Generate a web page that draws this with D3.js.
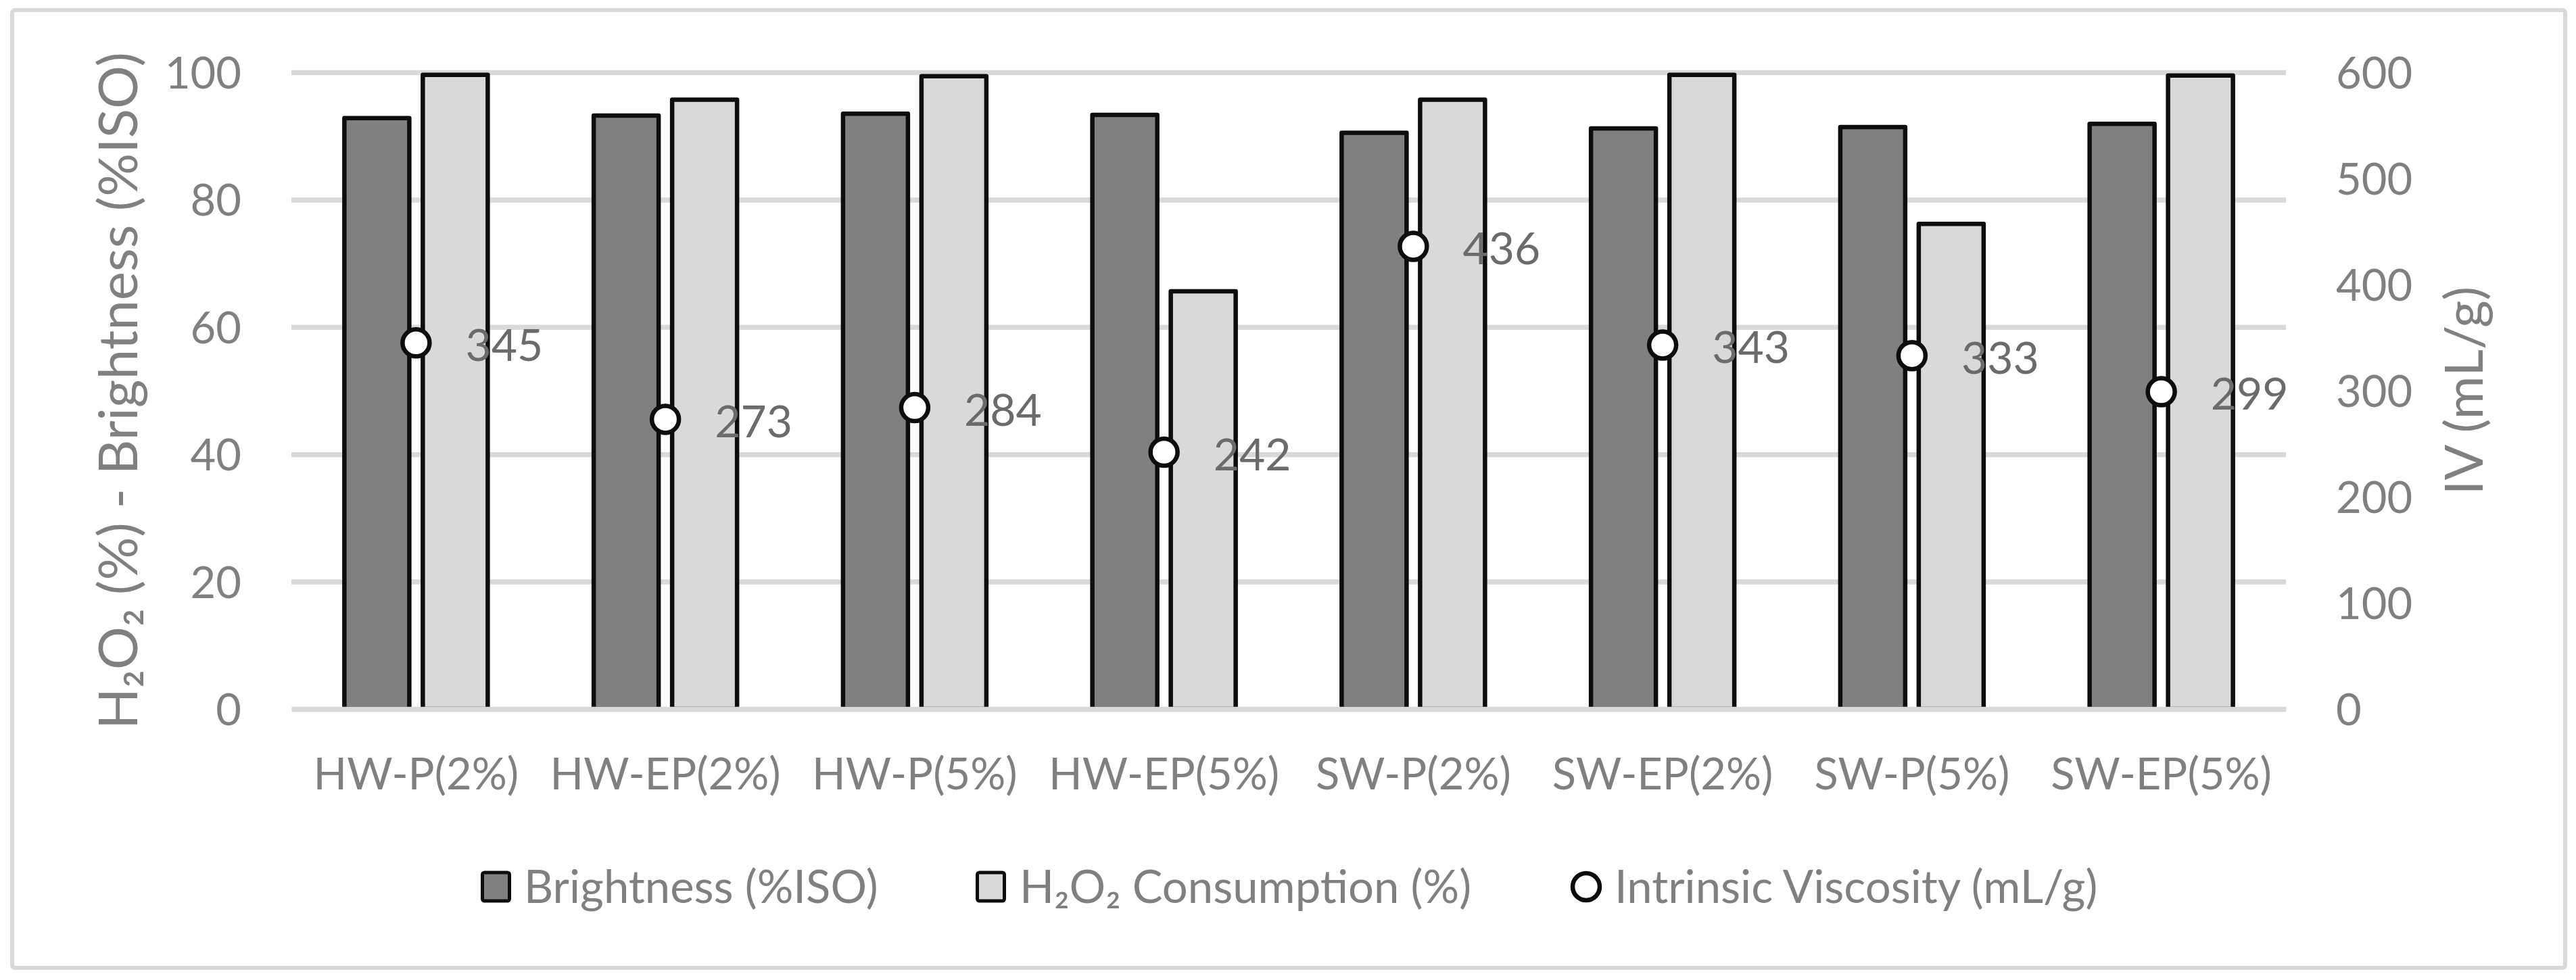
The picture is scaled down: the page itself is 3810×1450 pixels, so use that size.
<!DOCTYPE html>
<html>
<head>
<meta charset="utf-8">
<script src="https://cdn.jsdelivr.net/npm/d3@7"></script>
<style>
  html, body { margin: 0; padding: 0; background: #fff; }
  svg { display: block; }
  text { font-family: Lato, "Open Sans", "Liberation Sans", sans-serif; }
</style>
</head>
<body>
<svg id="chart" width="3810" height="1450"></svg>
<script>
// ---- data ----
const categories = ["HW-P(2%)", "HW-EP(2%)", "HW-P(5%)", "HW-EP(5%)", "SW-P(2%)", "SW-EP(2%)", "SW-P(5%)", "SW-EP(5%)"];
const brightness = [92.8, 93.2, 93.5, 93.3, 90.5, 91.2, 91.4, 91.9];
const h2o2Consumption = [99.6, 95.7, 99.4, 65.6, 95.7, 99.6, 76.2, 99.5];
const intrinsicViscosity = [345, 273, 284, 242, 436, 343, 333, 299];
const leftTicks = [0, 20, 40, 60, 80, 100];
const rightTicks = [0, 100, 200, 300, 400, 500, 600];
const seriesNames = ["Brightness (%ISO)", "H\u2082O\u2082 Consumption (%)", "Intrinsic Viscosity (mL/g)"];
const leftTitle = "H\u2082O\u2082 (%) - Brightness (%ISO)";
const rightTitle = "IV (mL/g)";

// ---- layout ----
const svg = d3.select("#chart");
const plot = { left: 431, right: 3381, top: 107, bottom: 1049 };
const gridColor = "#d9d9d9";
const textColor = "#808080";
const barStroke = "#0d0d0d";
const fills = ["#808080", "#d9d9d9"];

// chart area border
svg.append("rect")
  .attr("x", 18).attr("y", 15).attr("width", 3776).attr("height", 1417)
  .attr("rx", 4).attr("fill", "#fff")
  .attr("stroke", gridColor).attr("stroke-width", 6);

const x = d3.scaleBand().domain(categories).range([plot.left, plot.right]).padding(0);
const x1 = d3.scaleBand().domain([0, 1]).range([-106, 106]).paddingInner(0.1724).paddingOuter(0);
const yL = d3.scaleLinear().domain([0, 100]).range([plot.bottom, plot.top]);
const yR = d3.scaleLinear().domain([0, 600]).range([plot.bottom, plot.top]);

// gridlines (behind bars)
const grid = svg.append("g")
  .attr("transform", `translate(${plot.left},0)`)
  .call(d3.axisLeft(yL).tickValues(leftTicks.filter(d => d !== 0)).tickSize(-(plot.right - plot.left)).tickFormat(""));
grid.select(".domain").remove();
grid.selectAll(".tick line").attr("stroke", gridColor).attr("stroke-width", 7.5);

// bars
const barData = [brightness, h2o2Consumption];
const groups = svg.append("g").selectAll("g")
  .data(categories)
  .join("g")
  .attr("transform", d => `translate(${x(d) + x.bandwidth() / 2},0)`);

groups.selectAll("rect")
  .data((d, i) => barData.map((arr, s) => ({ s, v: arr[i] })))
  .join("rect")
  .attr("x", d => x1(d.s))
  .attr("width", x1.bandwidth())
  .attr("y", d => yL(d.v))
  .attr("height", d => yL(0) - yL(d.v))
  .attr("fill", d => fills[d.s])
  .attr("stroke", barStroke)
  .attr("stroke-width", 6.5)
  .attr("stroke-linejoin", "round");

// zero axis line on top of bars
const axisX = svg.append("g")
  .attr("transform", `translate(0,${plot.bottom})`)
  .call(d3.axisBottom(x).tickSize(0).tickPadding(119));
axisX.select(".domain").attr("stroke", gridColor).attr("stroke-width", 7.5);
axisX.selectAll("text")
  .attr("fill", textColor).attr("font-size", 65).attr("dy", 0)
  .style("font-family", "Lato, 'Open Sans', sans-serif");

// left axis labels
const axL = svg.append("g")
  .attr("transform", `translate(357,0)`)
  .call(d3.axisLeft(yL).tickValues(leftTicks).tickSize(0).tickPadding(0));
axL.select(".domain").remove();
axL.selectAll("text").attr("fill", textColor).attr("font-size", 65).attr("dy", "0.36em")
  .style("font-family", "Lato, 'Open Sans', sans-serif");

// right axis labels
const axR = svg.append("g")
  .attr("transform", `translate(3455,0)`)
  .call(d3.axisRight(yR).tickValues(rightTicks).tickSize(0).tickPadding(0));
axR.select(".domain").remove();
axR.selectAll("text").attr("fill", textColor).attr("font-size", 65).attr("dy", "0.36em")
  .style("font-family", "Lato, 'Open Sans', sans-serif");

// axis titles
const midY = (plot.top + plot.bottom) / 2;
svg.append("text")
  .attr("transform", `translate(203,${midY}) rotate(-90)`)
  .attr("text-anchor", "middle")
  .attr("fill", textColor).attr("font-size", 80)
  .text(leftTitle);
svg.append("text")
  .attr("transform", `translate(3672,${midY}) rotate(-90)`)
  .attr("text-anchor", "middle")
  .attr("fill", textColor).attr("font-size", 78)
  .text(rightTitle);

// IV markers
const cx = d => x(d) + x.bandwidth() / 2;
svg.append("g").selectAll("circle")
  .data(categories)
  .join("circle")
  .attr("cx", d => cx(d))
  .attr("cy", (d, i) => yR(intrinsicViscosity[i]))
  .attr("r", 20)
  .attr("fill", "#fff")
  .attr("stroke", barStroke)
  .attr("stroke-width", 6.5);

// data labels
svg.append("g").selectAll("text")
  .data(categories)
  .join("text")
  .attr("x", d => cx(d) + 73)
  .attr("y", (d, i) => yR(intrinsicViscosity[i]) + 3)
  .attr("dy", "0.36em")
  .attr("fill", "#6b6b6b").attr("font-size", 66)
  .text((d, i) => intrinsicViscosity[i]);

// legend
const legendY = 1312;
const legendItems = [
  { type: "rect", fill: fills[0], sx: 711, tx: 775 },
  { type: "rect", fill: fills[1], sx: 1443, tx: 1508 },
  { type: "circle", fill: "#fff", sx: 2323, tx: 2388 }
];
const lg = svg.append("g");
legendItems.forEach((it, i) => {
  if (it.type === "rect") {
    lg.append("rect")
      .attr("x", it.sx + 2.5).attr("y", legendY - 21)
      .attr("width", 40).attr("height", 42).attr("rx", 3)
      .attr("fill", it.fill).attr("stroke", barStroke).attr("stroke-width", 5);
  } else {
    lg.append("circle")
      .attr("cx", it.sx + 23).attr("cy", legendY)
      .attr("r", 20).attr("fill", it.fill)
      .attr("stroke", barStroke).attr("stroke-width", 6.5);
  }
  lg.append("text")
    .attr("x", it.tx).attr("y", legendY).attr("dy", "0.36em")
    .attr("fill", textColor).attr("font-size", 67)
    .text(seriesNames[i]);
});
</script>
</body>
</html>
